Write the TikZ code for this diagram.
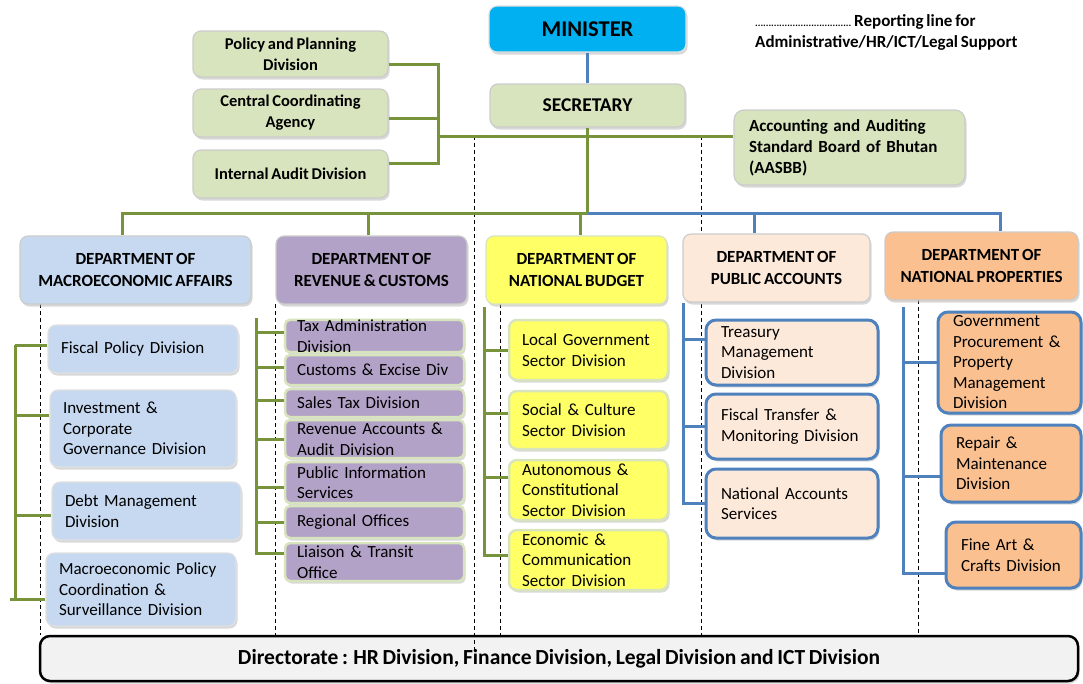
\documentclass[tikz,border=0pt]{standalone}
\usepackage{fontspec}
\setmainfont{Carlito}[WordSpace=0.75]
\usetikzlibrary{shadows}

\definecolor{minblue}{RGB}{0,176,240}
\definecolor{sagebox}{RGB}{215,228,189}
\definecolor{oliveln}{RGB}{119,147,60}
\definecolor{blueln}{RGB}{79,129,189}
\definecolor{macrobox}{RGB}{198,217,241}
\definecolor{revbox}{RGB}{179,162,199}
\definecolor{budbox}{RGB}{255,255,102}
\definecolor{pubbox}{RGB}{253,233,217}
\definecolor{propbox}{RGB}{250,192,144}

\tikzset{
  orgbox/.style={rectangle, rounded corners=8pt, draw=black!20, line width=1.2pt, inner sep=0pt,
    drop shadow={shadow xshift=1.5pt, shadow yshift=-2.5pt, fill=black!30}},
  topbox/.style={orgbox, fill=sagebox, align=center, font=\fontsize{16.5}{21}\selectfont\bfseries},
  deptbox/.style={orgbox, align=center, minimum height=68pt, font=\fontsize{17}{22}\selectfont\bfseries},
  divbox/.style={orgbox, align=left, font=\fontsize{17}{20.5}\selectfont},
  macrodiv/.style={divbox, fill=macrobox, draw=black!12, inner xsep=13pt},
  revdiv/.style={divbox, fill=revbox, draw=sagebox, line width=2.5pt, rounded corners=5pt, inner xsep=12pt, text width=155pt},
  buddiv/.style={divbox, fill=budbox, draw=sagebox, line width=2.5pt, inner xsep=13pt, text width=133pt, minimum height=60pt},
  pubdiv/.style={divbox, fill=pubbox, draw=blueln, line width=3pt, rounded corners=10pt, inner xsep=15pt, text width=142pt},
  propdiv/.style={divbox, fill=propbox, draw=blueln, line width=3pt, rounded corners=10pt, inner xsep=15pt},
  oliveline/.style={draw=oliveln, line width=3pt},
  blueline/.style={draw=blueln, line width=3pt},
  supportline/.style={dash pattern=on 4pt off 3pt, line width=0.8pt},
}

\begin{document}
\begin{tikzpicture}[x=1pt, y=-1pt]
\useasboundingbox (0,0) rectangle (1083,683);
\node[orgbox, draw=black, line width=2.5pt, rounded corners=10pt, fill=black!5, minimum width=1038pt, minimum height=45pt, font=\fontsize{21.5}{25}\selectfont\bfseries] (dir) at (559,658.5) {Directorate : HR Division, Finance Division, Legal Division and ICT Division};
\coordinate (rl1) at (40,304);
\coordinate (rl2) at (275,304);
\coordinate (rl3) at (474,136);
\coordinate (rl3end) at (474,651);
\coordinate (rl4) at (500,304);
\coordinate (rl5) at (701,136);
\coordinate (rl6) at (918,300);
\draw[supportline] (rl1) -- (rl1 |- dir.north);
\draw[supportline] (rl2) -- (rl2 |- dir.north);
\draw[supportline] (rl3) -- (rl3end);
\draw[supportline] (rl4) -- (rl4 |- dir.north);
\draw[supportline] (rl5) -- (rl5 |- dir.north);
\draw[supportline] (rl6) -- (rl6 |- dir.north);

\node[font=\fontsize{17}{21}\selectfont\bfseries, align=left, anchor=west, inner sep=0pt] (legend) at (755,32.5) {{\fontsize{10}{10}\selectfont ....................................}\ Reporting line for\\Administrative/HR/ICT/Legal Support};

\node[topbox, fill=minblue, draw=black!12, minimum width=197pt, minimum height=46pt, font=\fontsize{22.5}{26}\selectfont\bfseries] (minister) at (587.5,29) {MINISTER};
\node[topbox, minimum width=195pt, minimum height=43pt, font=\fontsize{19.5}{23}\selectfont\bfseries] (secretary) at (587.5,105.5) {SECRETARY};
\node[topbox, minimum width=195pt, minimum height=46pt] (ppd) at (290.5,54) {Policy and Planning\\Division};
\node[topbox, minimum width=195pt, minimum height=48pt] (cca) at (290.5,113) {Central Coordinating\\Agency};
\node[topbox, minimum width=195pt, minimum height=48pt] (iad) at (290.5,174) {Internal Audit Division};
\node[topbox, align=left, text width=201pt, inner xsep=15pt, minimum height=75pt, rounded corners=10pt, font=\fontsize{17}{21}\selectfont\bfseries] (aasbb) at (849.5,147.5) {Accounting and Auditing\\Standard Board of Bhutan\\(AASBB)};

\node[deptbox, fill=macrobox, minimum width=231pt] (dma) at (135.5,270) {DEPARTMENT OF\\MACROECONOMIC AFFAIRS};
\node[deptbox, fill=revbox, minimum width=191pt] (drc) at (371.5,270) {DEPARTMENT OF\\REVENUE \& CUSTOMS};
\node[deptbox, fill=budbox, draw=sagebox, minimum width=181pt] (dnb) at (576.5,270) {DEPARTMENT OF\\NATIONAL BUDGET};
\node[deptbox, fill=pubbox, minimum width=187pt] (dpa) at (776.5,268) {DEPARTMENT OF\\PUBLIC ACCOUNTS};
\node[deptbox, fill=propbox, minimum width=193pt] (dnp) at (981.5,266) {DEPARTMENT OF\\NATIONAL PROPERTIES};

\node[macrodiv, text width=164pt, minimum height=48pt] (fpd) at (143,349) {Fiscal Policy Division};
\node[macrodiv, text width=160pt, minimum height=77pt] (icg) at (143,428.5) {Investment \&\\Corporate\\Governance Division};
\node[macrodiv, text width=163pt, minimum height=58pt] (dmd) at (146.5,511) {Debt Management\\Division};
\node[macrodiv, text width=164pt, minimum height=73pt] (mpc) at (141,589.5) {Macroeconomic Policy\\Coordination \&\\Surveillance Division};

\node[revdiv, minimum height=32pt] (tad) at (374.5,336) {Tax Administration\\Division};
\node[revdiv, minimum height=30pt] (ced) at (374.5,370) {Customs \& Excise Div};
\node[revdiv, minimum height=28pt] (std) at (374.5,403) {Sales Tax Division};
\node[revdiv, minimum height=38pt] (rad) at (374.5,439) {Revenue Accounts \&\\Audit Division};
\node[revdiv, minimum height=41pt] (pis) at (374.5,482.5) {Public Information\\Services};
\node[revdiv, minimum height=32pt] (rgo) at (374.5,522) {Regional Offices};
\node[revdiv, minimum height=38pt] (lto) at (374.5,562) {Liaison \& Transit\\Office};

\node[buddiv] (lgs) at (588.5,350) {Local Government\\Sector Division};
\node[buddiv, minimum height=58pt] (scs) at (588.5,420) {Social \& Culture\\Sector Division};
\node[buddiv] (acs) at (588.5,490) {Autonomous \&\\Constitutional\\Sector Division};
\node[buddiv] (ecs) at (588.5,560) {Economic \&\\Communication\\Sector Division};

\node[pubdiv, minimum height=65pt] (tmd) at (792,352.5) {Treasury\\Management\\Division};
\node[pubdiv, minimum height=65pt] (ftm) at (792,426.5) {Fiscal Transfer \&\\Monitoring Division};
\node[pubdiv, minimum height=69pt] (nas) at (792,503.5) {National Accounts\\Services};

\node[propdiv, text width=113pt, minimum height=101pt] (gpp) at (1009.5,362.5) {Government\\Procurement \&\\Property\\Management\\Division};
\node[propdiv, text width=110pt, minimum height=77pt] (rmd) at (1011,463.5) {Repair \&\\Maintenance\\Division};
\node[propdiv, text width=105pt, minimum height=66pt] (fac) at (1013.5,555) {Fine Art \&\\Crafts Division};

\coordinate (busA) at (122,213);
\coordinate (busB) at (368,213);
\coordinate (busC) at (580,213);
\coordinate (busD) at (754,213);
\coordinate (busE) at (1000,213);
\coordinate (spine) at (438,136);
\draw[blueline] (minister) -- (secretary);
\draw[oliveline] (secretary) -- (secretary |- busA);
\draw[oliveline] (dma.north -| busA) -- (busA) -- (secretary |- busA);
\draw[oliveline] (busB) -- (drc.north -| busB);
\draw[oliveline] (busC) -- (dnb.north -| busC);
\draw[blueline] (secretary |- busA) -- (busE) -- (dnp.north -| busE);
\draw[blueline] (busD) -- (dpa.north -| busD);
\draw[oliveline] ([yshift=-10pt]ppd.east) -| (spine);
\draw[oliveline] ([yshift=-5pt]cca.east) -| (spine);
\draw[oliveline] ([yshift=11pt]iad.east) -| (spine);
\draw[oliveline] (spine) -- (aasbb.west |- spine);

\coordinate (maTop) at (15,345);
\coordinate (maBot) at (10,599);
\draw[oliveline] ([yshift=4pt]fpd.west) -| (maTop);
\draw[oliveline] ([yshift=13pt]icg.west) -| (maTop);
\draw[oliveline] ([yshift=-4pt]dmd.west) -| (maTop);
\draw[oliveline] ([yshift=-9.5pt]mpc.west) -| (maTop);
\draw[oliveline] (maBot) -- ([yshift=-9.5pt]mpc.west);

\coordinate (rcTop) at (256,318);
\draw[oliveline] ([yshift=4pt]tad.west) -| (rcTop);
\draw[oliveline] ([yshift=3pt]ced.west) -| (rcTop);
\draw[oliveline] ([yshift=3pt]std.west) -| (rcTop);
\draw[oliveline] (rad.west) -| (rcTop);
\draw[oliveline] ([yshift=-4.5pt]pis.west) -| (rcTop);
\draw[oliveline] (rgo.west) -| (rcTop);
\draw[oliveline] ([yshift=9pt]lto.west) -| (rcTop);

\coordinate (nbTop) at (484,307);
\draw[oliveline] (lgs.west) -| (nbTop);
\draw[oliveline] ([yshift=7pt]scs.west) -| (nbTop);
\draw[oliveline] ([yshift=13pt]acs.west) -| (nbTop);
\draw[oliveline] ([yshift=5pt]ecs.west) -| (nbTop);

\coordinate (paTop) at (683,303);
\draw[blueline] ([yshift=13.5pt]tmd.west) -| (paTop);
\draw[blueline] (ftm.west) -| (paTop);
\draw[blueline] (nas.west) -| (paTop);

\coordinate (npTop) at (903,307);
\draw[blueline] (gpp.west) -| (npTop);
\draw[blueline] ([yshift=-12.5pt]rmd.west) -| (npTop);
\draw[blueline] ([yshift=-18pt]fac.west) -| (npTop);
\end{tikzpicture}
\end{document}
